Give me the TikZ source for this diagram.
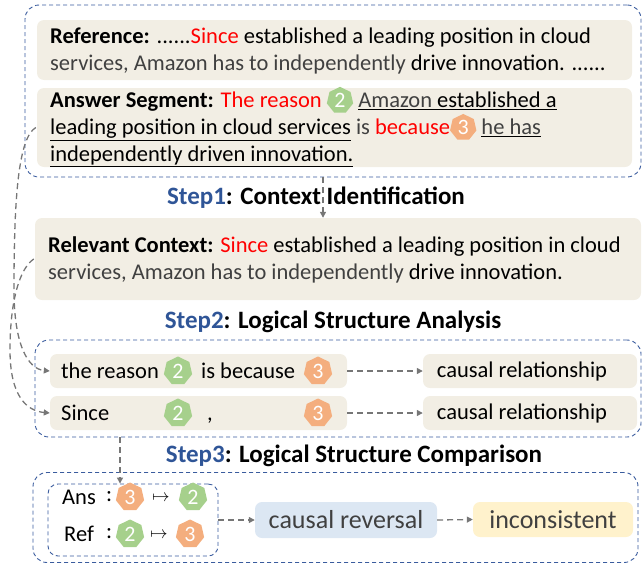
\documentclass[tikz,border=0pt]{standalone}
\usepackage{fontspec}
\setmainfont{Carlito}
\usetikzlibrary{shapes.geometric,arrows.meta,calc}
\definecolor{dblue}{HTML}{3A5C9E}
\definecolor{stepblue}{HTML}{2F5597}
\definecolor{beigec}{HTML}{F2EEE4}
\definecolor{bluec}{HTML}{DCE7F3}
\definecolor{yellowc}{HTML}{FFF2CC}
\definecolor{bgreen}{HTML}{A6D08C}
\definecolor{borange}{HTML}{F4AE7E}
\definecolor{tgray}{HTML}{404040}
\definecolor{cgray}{HTML}{767676}
\definecolor{tred}{HTML}{FF0000}
\tikzset{
 outerbox/.style={draw=dblue, dash pattern=on 4pt off 3pt, rounded corners=14pt, line width=0.9pt, inner sep=0},
 beigebox/.style={fill=beigec, rounded corners=7pt, inner sep=0},
 conn/.style={draw=cgray, line width=1.3pt, dash pattern=on 6pt off 4pt, -{Triangle[length=6pt,width=6pt]}},
 badge/.style={regular polygon, regular polygon sides=7, minimum size=29pt, inner sep=0, text=white, font=\fontsize{22}{22}\selectfont},
 txt/.style={font=\fontsize{22.5}{27}\selectfont, align=left, inner sep=0, anchor=west},
 titletxt/.style={font=\fontsize{25}{28}\selectfont\bfseries, inner sep=0},
}
\newcommand{\bdg}[2]{\tikz[baseline=(bb.base)]\node[badge,fill=#1,minimum size=27pt](bb){#2};}
\begin{document}
\begin{tikzpicture}[x=1pt,y=-1pt]
\useasboundingbox (0,0) rectangle (642,565);
% ---------- block 1
\node[outerbox, minimum width=616pt, minimum height=172pt] (ob1) at (333,91) {};
\node[beigebox, minimum width=595pt, minimum height=60pt] (refbox) at (334.5,50) {};
\node[txt] (reftxt) at (50,51) {\textbf{Reference:} ......\textcolor{tred}{Since} established a leading position in cloud\\
\textcolor{tgray}{services, Amazon has to independently} drive innovation. ......};
\node[beigebox, minimum width=595pt, minimum height=79pt] (ansbox) at (334.5,127.5) {};
\node[txt] (anstxt) at (50,127) {\textbf{Answer Segment:} \textcolor{tred}{The reason} \bdg{bgreen}{2} \underline{\textcolor{tgray}{Amazon} established a}\\
\underline{leading position in cloud services} \textcolor{tgray}{is} \textcolor{tred}{because}\bdg{borange}{3} \underline{\textcolor{tgray}{he has}}\\
\underline{independently driven innovation.}};
% ---------- step 1
\node[titletxt] (t1) at (316,198) {\textcolor{stepblue}{Step1}: Context Identification};
\node[beigebox, minimum width=606pt, minimum height=82pt] (ctxbox) at (338,259) {};
\node[txt] (ctxtxt) at (48,260) {\textbf{Relevant Context:} \textcolor{tred}{Since} established a leading position in cloud\\
\textcolor{tgray}{services, Amazon has to independently} drive innovation.};
% ---------- step 2
\node[titletxt] (t2) at (333,322) {\textcolor{stepblue}{Step2}: Logical Structure Analysis};
\node[outerbox, minimum width=606pt, minimum height=97pt] (ob2) at (338,388.5) {};
\node[beigebox, minimum width=297pt, minimum height=34pt] (rowa) at (198.5,371) {};
\node[beigebox, minimum width=297pt, minimum height=34pt] (rowb) at (198.5,413) {};
\node[beigebox, minimum width=214pt, minimum height=34pt] (cra) at (530,371) {};
\node[beigebox, minimum width=214pt, minimum height=34pt] (crb) at (530,413) {};
\node[txt] (ra1) at (61,371) {the reason};
\node[badge, fill=bgreen] (ra2) at (178,371) {2};
\node[txt] (ra3) at (201,371) {is because};
\node[badge, fill=borange] (ra4) at (318,371) {3};
\node[txt] (rb1) at (61,413) {Since};
\node[badge, fill=bgreen] (rb2) at (178,413) {2};
\node[txt, anchor=base west] (rb3) at (207,420) {,};
\node[badge, fill=borange] (rb4) at (318,413) {3};
\node[font=\fontsize{22.5}{27}\selectfont, inner sep=0] (cratxt) at (522,371) {causal relationship};
\node[font=\fontsize{22.5}{27}\selectfont, inner sep=0] (crbtxt) at (522,413) {causal relationship};
% ---------- step 3
\node[titletxt] (t3) at (354,456) {\textcolor{stepblue}{Step3}: Logical Structure Comparison};
\node[outerbox, minimum width=605pt, minimum height=90pt] (ob3) at (335.5,517.5) {};
\node[outerbox, rounded corners=10pt, minimum width=170pt, minimum height=72pt] (inner) at (133,520) {};
\node[txt] (ans) at (62,497) {Ans};
\node[txt] (ansc) at (106,497) {:};
\node[badge, fill=borange] (ans3) at (130,497) {3};
\node[inner sep=0, font=\fontsize{19}{19}\selectfont] (ansm) at (161,498) {$\mapsto$};
\node[badge, fill=bgreen] (ans2) at (193,497) {2};
\node[txt] (ref) at (64,534) {Ref};
\node[txt] (refc) at (106,534) {:};
\node[badge, fill=bgreen] (ref2) at (130,534) {2};
\node[inner sep=0, font=\fontsize{19}{19}\selectfont] (refm) at (159,535) {$\mapsto$};
\node[badge, fill=borange] (ref3) at (190,534) {3};
\node[fill=bluec, rounded corners=7pt, minimum width=182pt, minimum height=36pt, inner sep=0, text=tgray, font=\fontsize{26}{30}\selectfont] (rev) at (346,520) {causal reversal};
\node[fill=yellowc, rounded corners=7pt, minimum width=160pt, minimum height=35pt, inner sep=0, text=tgray, font=\fontsize{26}{30}\selectfont] (inc) at (553,519.5) {inconsistent};
% ---------- connectors
\draw[conn] (ob1.south -| t1.center) ++(7,0) coordinate (c1s) -- (c1s |- ctxbox.north);
\draw[conn] ($(ansbox.west)+(-1,0)$) .. controls (18,138) and (14,200) .. (14,290) .. controls (14,345) and (28,369) .. (rowa.west);
\draw[conn] ($(ctxbox.west)+(-1,0)$) .. controls (20,268) and (10,300) .. (10,350) .. controls (10,398) and (28,411) .. (rowb.west);
\draw[conn] (rowa.east) -- (cra.west);
\draw[conn] (rowb.east) -- (crb.west);
\coordinate (c2s) at (120,437);
\draw[conn] (c2s) -- (c2s |- inner.north);
\draw[conn] (inner.east) -- (rev.west);
\draw[conn] (rev.east) -- (inc.west);
\end{tikzpicture}
\end{document}
